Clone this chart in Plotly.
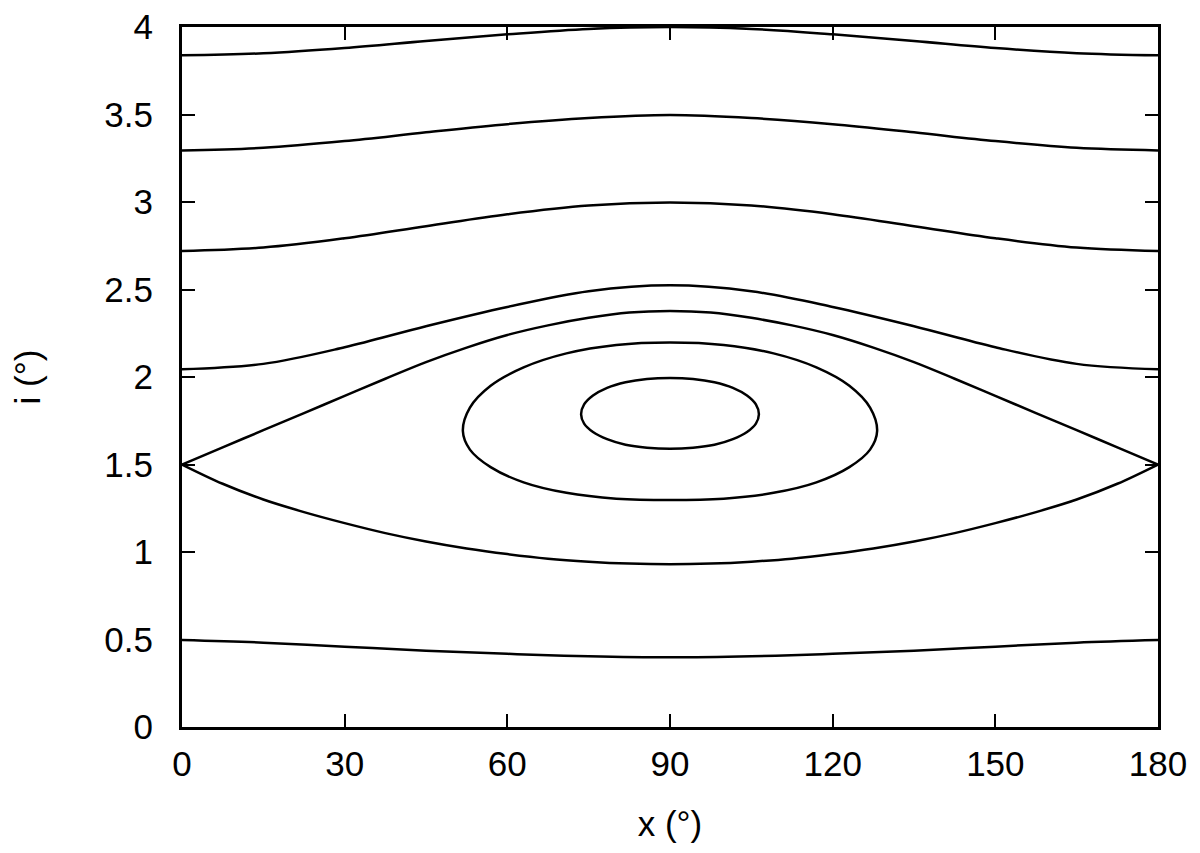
import plotly.graph_objects as go

# Open (circulating) curves, sampled every 15 degrees
x_open = [0, 15, 30, 45, 60, 75, 90, 105, 120, 135, 150, 165, 180]
curve_top = [3.838, 3.85, 3.88, 3.92, 3.958, 3.989, 4.0, 3.989, 3.958, 3.92, 3.88, 3.85, 3.838]
curve_35 = [3.295, 3.31, 3.348, 3.398, 3.445, 3.48, 3.497, 3.48, 3.445, 3.398, 3.348, 3.31, 3.295]
curve_30 = [2.72, 2.74, 2.793, 2.862, 2.93, 2.98, 2.997, 2.98, 2.93, 2.862, 2.793, 2.74, 2.72]
curve_25 = [2.044, 2.075, 2.17, 2.29, 2.40, 2.49, 2.524, 2.49, 2.40, 2.29, 2.17, 2.075, 2.044]
curve_05 = [0.497, 0.482, 0.459, 0.436, 0.418, 0.404, 0.398, 0.404, 0.418, 0.436, 0.459, 0.482, 0.497]

# Separatrix branches, sampled every 7.5 degrees
x_sep = [0, 7.5, 15, 22.5, 30, 37.5, 45, 52.5, 60, 67.5, 75, 82.5, 90,
         97.5, 105, 112.5, 120, 127.5, 135, 142.5, 150, 157.5, 165, 172.5, 180]
sep_upper = [1.5, 1.598, 1.696, 1.794, 1.892, 1.99, 2.085, 2.168, 2.24, 2.295, 2.338, 2.368, 2.377,
             2.368, 2.338, 2.295, 2.24, 2.168, 2.085, 1.99, 1.892, 1.794, 1.696, 1.598, 1.5]
sep_lower = [1.5, 1.39, 1.30, 1.228, 1.165, 1.108, 1.06, 1.02, 0.988, 0.962, 0.945, 0.934, 0.93,
             0.934, 0.945, 0.962, 0.988, 1.02, 1.06, 1.108, 1.165, 1.228, 1.30, 1.39, 1.5]

# Closed (librating) curves, traced clockwise starting at the top
mid_x = [90, 99.9, 109.1, 117.0, 123.08, 126.9, 128.2, 126.9, 123.08, 117.0, 109.1, 99.9, 90,
         80.1, 70.9, 63.0, 56.92, 53.1, 51.8, 53.1, 56.92, 63.0, 70.9, 80.1, 90]
mid_y = [2.197, 2.183, 2.135, 2.055, 1.950, 1.825, 1.691, 1.585, 1.485, 1.398, 1.338, 1.305, 1.297,
         1.305, 1.338, 1.398, 1.485, 1.585, 1.691, 1.825, 1.950, 2.055, 2.135, 2.183, 2.197]

inner_x = [90, 94.25, 98.2, 101.6, 104.2, 105.84, 106.4, 105.84, 104.2, 101.6, 98.2, 94.25, 90,
           85.75, 81.8, 78.4, 75.8, 74.16, 73.6, 74.16, 75.8, 78.4, 81.8, 85.75, 90]
inner_y = [1.995, 1.989, 1.970, 1.938, 1.894, 1.843, 1.787, 1.734, 1.686, 1.645, 1.613, 1.596, 1.590,
           1.596, 1.613, 1.645, 1.686, 1.734, 1.787, 1.843, 1.894, 1.938, 1.970, 1.989, 1.995]

x_ticks = [0, 30, 60, 90, 120, 150, 180]
y_ticks = [0, 0.5, 1, 1.5, 2, 2.5, 3, 3.5, 4]
y_tick_text = ["0", "0.5", "1", "1.5", "2", "2.5", "3", "3.5", "4"]

line_style = dict(color="black", width=2.5, shape="spline", smoothing=1.0)

fig = go.Figure()
for ys in [curve_top, curve_35, curve_30, curve_25, curve_05]:
    fig.add_trace(go.Scatter(x=x_open, y=ys, mode="lines", line=line_style,
                             showlegend=False, hoverinfo="skip"))
for ys in [sep_upper, sep_lower]:
    fig.add_trace(go.Scatter(x=x_sep, y=ys, mode="lines", line=line_style,
                             showlegend=False, hoverinfo="skip"))
fig.add_trace(go.Scatter(x=mid_x, y=mid_y, mode="lines", line=line_style,
                         showlegend=False, hoverinfo="skip"))
fig.add_trace(go.Scatter(x=inner_x, y=inner_y, mode="lines", line=line_style,
                         showlegend=False, hoverinfo="skip"))

font = dict(family="Liberation Sans, Arial, sans-serif", size=35, color="black")

fig.update_layout(
    width=1200, height=853,
    margin=dict(l=174, r=50, t=19, b=134),
    paper_bgcolor="white", plot_bgcolor="white",
    font=font,
    showlegend=False,
)
fig.update_xaxes(
    range=[0, 180], tickvals=x_ticks, ticktext=[str(v) for v in x_ticks],
    ticks="inside", ticklen=13, tickwidth=1.5, tickcolor="black",
    showline=True, linecolor="black", linewidth=3, mirror="ticks",
    showgrid=False, zeroline=False, automargin=False,
    ticklabelstandoff=4, ticklabeloverflow="allow",
    title=dict(text="x (°)", font=font, standoff=30),
)
fig.update_yaxes(
    range=[0, 4], tickvals=y_ticks, ticktext=y_tick_text,
    ticks="inside", ticklen=13, tickwidth=1.5, tickcolor="black",
    showline=True, linecolor="black", linewidth=3, mirror="ticks",
    showgrid=False, zeroline=False, automargin=False,
    ticklabelstandoff=19, ticklabeloverflow="allow",
    title=dict(text="i (°)", font=font, standoff=65),
)

fig.write_html("out.html")
